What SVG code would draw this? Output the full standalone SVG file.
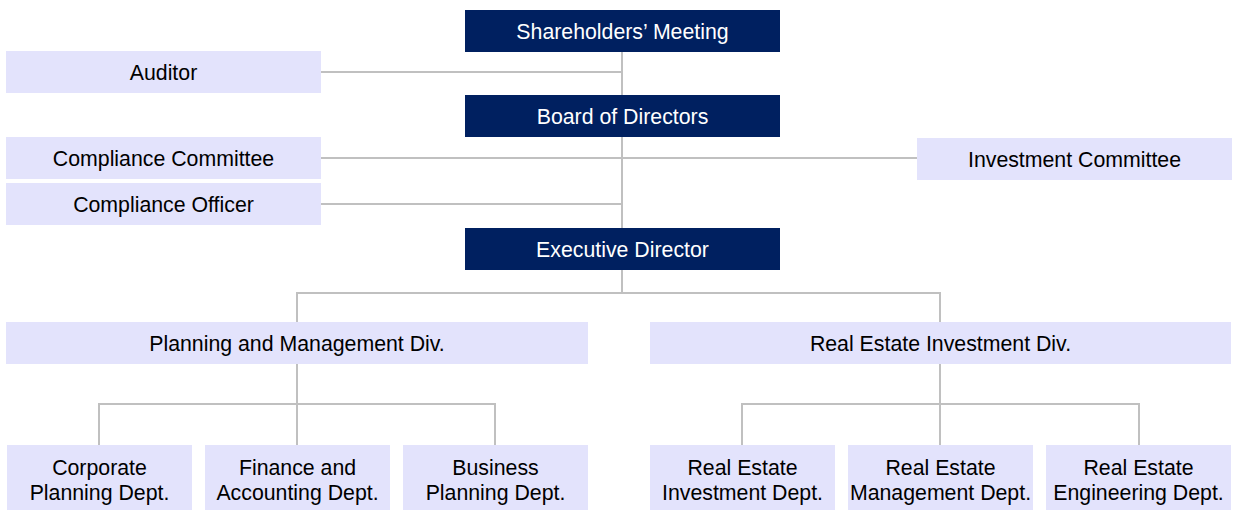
<svg xmlns="http://www.w3.org/2000/svg" width="1237" height="511" viewBox="0 0 1237 511">
<style>
  .dark { fill: #002060; }
  .light { fill: #e3e3fc; }
  .t { font-family: "Liberation Sans", Arial, sans-serif; font-size: 21.3px; text-anchor: middle; }
  .tw { fill: #ffffff; }
  .tb { fill: #000000; }
  .conn { stroke: #c0c0c0; stroke-width: 2; fill: none; }
</style>
<rect width="1237" height="511" fill="#ffffff"/>
<g id="connectors">
  <path class="conn" d="M622 52 V293"/>
  <path class="conn" d="M321 72 H622"/>
  <path class="conn" d="M321 158 H917"/>
  <path class="conn" d="M321 204 H622"/>
  <path class="conn" d="M297 322 V293 H940 V322"/>
  <path class="conn" d="M297 364 V445"/>
  <path class="conn" d="M99 445 V404 H495 V445"/>
  <path class="conn" d="M940 364 V445"/>
  <path class="conn" d="M742 445 V404 H1139 V445"/>
</g>
<g id="shareholders">
  <rect class="dark" x="465" y="10" width="315" height="42"/>
  <text class="t tw" x="622.5" y="39">Shareholders’ Meeting</text>
</g>
<g id="auditor">
  <rect class="light" x="6" y="51" width="315" height="42"/>
  <text class="t tb" x="163.5" y="80">Auditor</text>
</g>
<g id="board">
  <rect class="dark" x="465" y="95" width="315" height="42"/>
  <text class="t tw" x="622.5" y="124">Board of Directors</text>
</g>
<g id="compliance-committee">
  <rect class="light" x="6" y="137" width="315" height="42"/>
  <text class="t tb" x="163.5" y="166">Compliance Committee</text>
</g>
<g id="investment-committee">
  <rect class="light" x="917" y="138" width="315" height="42"/>
  <text class="t tb" x="1074.5" y="167">Investment Committee</text>
</g>
<g id="compliance-officer">
  <rect class="light" x="6" y="183" width="315" height="42"/>
  <text class="t tb" x="163.5" y="212">Compliance Officer</text>
</g>
<g id="executive">
  <rect class="dark" x="465" y="228" width="315" height="42"/>
  <text class="t tw" x="622.5" y="257">Executive Director</text>
</g>
<g id="planning-div">
  <rect class="light" x="6" y="322" width="582" height="42"/>
  <text class="t tb" x="297" y="351">Planning and Management Div.</text>
</g>
<g id="realestate-div">
  <rect class="light" x="650" y="322" width="581" height="42"/>
  <text class="t tb" x="940.5" y="351">Real Estate Investment Div.</text>
</g>
<g id="corporate-planning">
  <rect class="light" x="7" y="445" width="185" height="65"/>
  <text class="t tb" x="99.5" y="475">Corporate</text>
  <text class="t tb" x="99.5" y="500">Planning Dept.</text>
</g>
<g id="finance-accounting">
  <rect class="light" x="205" y="445" width="185" height="65"/>
  <text class="t tb" x="297.5" y="475">Finance and</text>
  <text class="t tb" x="297.5" y="500">Accounting Dept.</text>
</g>
<g id="business-planning">
  <rect class="light" x="403" y="445" width="185" height="65"/>
  <text class="t tb" x="495.5" y="475">Business</text>
  <text class="t tb" x="495.5" y="500">Planning Dept.</text>
</g>
<g id="re-investment">
  <rect class="light" x="650" y="445" width="185" height="65"/>
  <text class="t tb" x="742.5" y="475">Real Estate</text>
  <text class="t tb" x="742.5" y="500">Investment Dept.</text>
</g>
<g id="re-management">
  <rect class="light" x="848" y="445" width="185" height="65"/>
  <text class="t tb" x="940.5" y="475">Real Estate</text>
  <text class="t tb" x="940.5" y="500">Management Dept.</text>
</g>
<g id="re-engineering">
  <rect class="light" x="1046" y="445" width="185" height="65"/>
  <text class="t tb" x="1138.5" y="475">Real Estate</text>
  <text class="t tb" x="1138.5" y="500">Engineering Dept.</text>
</g>
</svg>
